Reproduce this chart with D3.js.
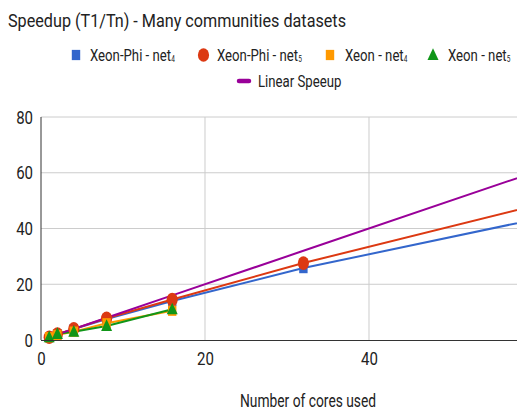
<!DOCTYPE html>
<html><head><meta charset="utf-8">
<script src="https://cdnjs.cloudflare.com/ajax/libs/d3/7.8.5/d3.min.js"></script>
<style>body{margin:0;background:#fff;}svg{display:block;font-family:Roboto,"Noto Sans",sans-serif;}</style>
</head><body>
<svg id="c" width="517" height="410"></svg>
<script>
const cores = [1, 2, 4, 8, 16, 32, 64];
const xeonPhiNet4 = [1, 2, 3.9, 7.5, 14, 25.8, 45.6];
const xeonPhiNet5 = [1, 2.1, 4, 7.8, 14.5, 27.6, 51];
const xeonNet4 = [1, 1.8, 3, 6, 10.5];
const xeonNet5 = [1, 2.2, 3, 5, 11];
const linear = [1, 2, 4, 8, 16, 32, 64];
const xTicks = [0, 20, 40];
const yTicks = [0, 20, 40, 60, 80];
const seriesNames = ["Xeon-Phi - net", "Xeon-Phi - net", "Xeon - net", "Xeon - net", "Linear Speeup"];
const seriesSubs = ["4", "5", "4", "5", ""];
const colors = ["#3366cc", "#dc3912", "#ff9900", "#109618", "#990099"];
const shapes = ["square", "circle", "square", "triangle", "line"];

const SY = 1.22; // vertical stretch of the reference picture
const svg = d3.select("#c");
const x = d3.scaleLinear().domain([0, 58.05]).range([41, 517]);
const y = d3.scaleLinear().domain([0, 80]).range([340, 117]);

svg.append("defs").append("clipPath").attr("id", "clip")
  .append("rect").attr("x", 0).attr("y", 0).attr("width", 517).attr("height", 346);

// gridlines
const g = svg.append("g");
g.selectAll(".hg").data(yTicks.filter(d => d > 0)).join("line")
  .attr("x1", 41).attr("x2", 517).attr("y1", d => y(d)).attr("y2", d => y(d))
  .attr("stroke", "#cccccc").attr("stroke-width", 1);
g.selectAll(".vg").data(xTicks.filter(d => d > 0)).join("line")
  .attr("x1", d => x(d)).attr("x2", d => x(d)).attr("y1", 117).attr("y2", 340)
  .attr("stroke", "#cccccc").attr("stroke-width", 1);

// axes
const yAxis = svg.append("g").attr("transform", "translate(41,0)")
  .call(d3.axisLeft(y).tickValues(yTicks).tickSize(0).tickPadding(8));
yAxis.select(".domain").remove();
yAxis.selectAll("text").attr("font-size", 15).attr("fill", "#222").attr("font-family", "Roboto")
  .attr("dy", "0.34em").attr("transform", `scale(1,${SY})`);
const xAxis = svg.append("g").attr("transform", "translate(0,340)")
  .call(d3.axisBottom(x).tickValues(xTicks).tickSize(0));
xAxis.select(".domain").remove();
xAxis.selectAll("text").attr("font-size", 15).attr("fill", "#222").attr("font-family", "Roboto")
  .attr("y", 0).attr("dy", 0).attr("transform", `translate(0,25) scale(1,${SY})`);

// series
const datasets = [xeonPhiNet4, xeonPhiNet5, xeonNet4, xeonNet5, linear];
const plot = svg.append("g").attr("clip-path", "url(#clip)");
const line = d3.line().x(d => x(d[0])).y(d => y(d[1]));
datasets.forEach((vals, i) => {
  const pts = vals.map((v, j) => [cores[j], v]);
  plot.append("path").attr("d", line(pts)).attr("fill", "none")
    .attr("stroke", colors[i]).attr("stroke-width", 2);
});
function marker(sel, shape, cx, cy, color) {
  const m = sel.append("g").attr("transform", `translate(${cx},${cy}) scale(1,${SY})`);
  if (shape === "square") {
    m.append("rect").attr("x", -4.2).attr("y", -4.2).attr("width", 8.4).attr("height", 8.4).attr("fill", color);
  } else if (shape === "circle") {
    m.append("circle").attr("r", 5.6).attr("fill", color);
  } else if (shape === "triangle") {
    const r = 5.5;
    m.append("path").attr("d", `M0,${-r}L${r},${r * 0.75}L${-r},${r * 0.75}Z`).attr("fill", color);
  }
}
datasets.forEach((vals, i) => {
  if (shapes[i] === "line") return;
  vals.forEach((v, j) => marker(plot, shapes[i], x(cores[j]), y(v), colors[i]));
});

// axis baselines
svg.append("line").attr("x1", 41).attr("x2", 41).attr("y1", 117).attr("y2", 340).attr("stroke", "#333").attr("stroke-width", 1);
svg.append("line").attr("x1", 41).attr("x2", 517).attr("y1", 340.5).attr("y2", 340.5).attr("stroke", "#333").attr("stroke-width", 1);

function stretchedText(parent, tx, ty, size, sy, anchor) {
  return parent.append("text").attr("transform", `translate(${tx},${ty}) scale(1,${sy})`)
    .attr("font-size", size).attr("fill", "#222").attr("text-anchor", anchor || "start");
}

// title
stretchedText(svg, 8, 26.5, 16.2, 1.15).text("Speedup (T1/Tn) - Many communities datasets");

// legend
const legendPos = [
  {mx: 76, tx: 90, y: 55}, {mx: 203.5, tx: 217, y: 55}, {mx: 330, tx: 345, y: 55},
  {mx: 433, tx: 448, y: 55}, {mx: 244, tx: 258, y: 81}
];
const lg = svg.append("g");
legendPos.forEach((p, i) => {
  if (shapes[i] === "line") {
    lg.append("line").attr("x1", p.mx - 5).attr("x2", p.mx + 5).attr("y1", p.y).attr("y2", p.y)
      .attr("stroke", colors[i]).attr("stroke-width", 4.5).attr("stroke-linecap", "round");
  } else {
    marker(lg, shapes[i], p.mx, p.y, colors[i]);
  }
  const t = stretchedText(lg, p.tx, p.y + 5.5, 13.2, 1.3);
  t.append("tspan").text(seriesNames[i]);
  if (seriesSubs[i]) t.append("tspan").attr("font-size", 6.5).attr("dy", 1).text(seriesSubs[i]);
});

// x title
stretchedText(svg, 308, 406.5, 13.8, 1.3, "middle").text("Number of cores used");
</script>
</body></html>
